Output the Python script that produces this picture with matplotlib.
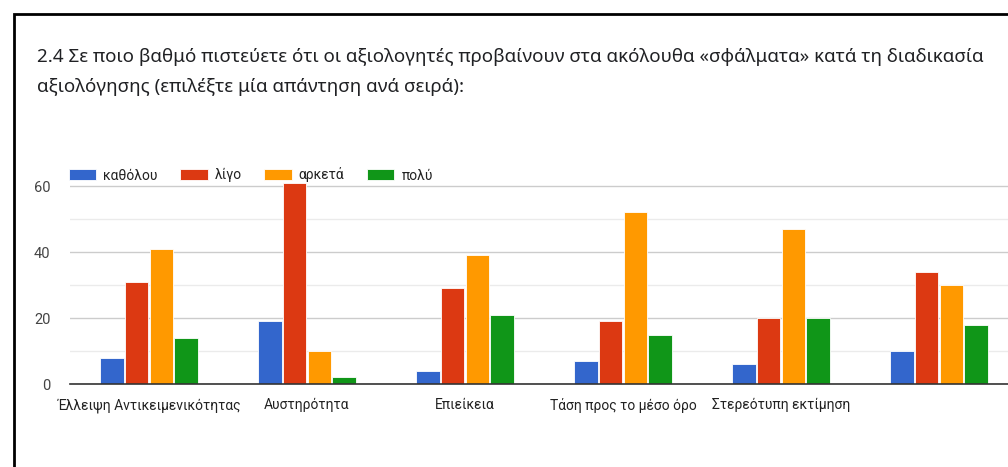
import matplotlib.pyplot as plt
import numpy as np
from matplotlib.patches import Rectangle

# data
categories = ["Έλλειψη Αντικειμενικότητας", "Αυστηρότητα", "Επιείκεια",
              "Τάση προς το μέσο όρο", "Στερεότυπη εκτίμηση", ""]
series_names = ["καθόλου", "λίγο", "αρκετά", "πολύ"]
katholou = [8, 19, 4, 7, 6, 10]
ligo = [31, 61, 29, 19, 20, 34]
arketa = [41, 10, 39, 52, 47, 30]
poly = [14, 2, 21, 15, 20, 18]
colors = ["#3366cc", "#dc3912", "#ff9900", "#109618"]

title_lines = ["2.4 Σε ποιο βαθμό πιστεύετε ότι οι αξιολογητές προβαίνουν στα ακόλουθα "
               "«σφάλματα» κατά τη διαδικασία",
               "αξιολόγησης (επιλέξτε μία απάντηση ανά σειρά):"]

plt.rcParams['font.family'] = ['Roboto', 'DejaVu Sans']

fig = plt.figure(figsize=(10.08, 4.67), dpi=100)

# black frame of the card (clipped on the right and bottom)
fig.patches.append(Rectangle((14 / 1008, -0.1), 1.2, 1 - 14 / 467 + 0.1,
                             transform=fig.transFigure, fill=False,
                             edgecolor="black", linewidth=2))

for k, line in enumerate(title_lines):
    fig.text(37 / 1008, 1 - (57 + 30 * k) / 467, line, fontsize=13.5, color="#202124",
             va="center", ha="left", family=['Noto Sans', 'DejaVu Sans'])

ax = fig.add_axes([70 / 1008, 1 - 384 / 467, 948 / 1008, (384 - 179.4) / 467])

x = np.arange(len(categories))
w = 0.148
all_series = [katholou, ligo, arketa, poly]
for i, (vals, name, c) in enumerate(zip(all_series, series_names, colors)):
    ax.bar(x + (i - 1.5) * (w + 0.008), vals, width=w, color=c, label=name,
           edgecolor="white", linewidth=0.6, zorder=3)

ax.set_xlim(-0.5, 5.5)
ax.set_ylim(0, 62)
ax.set_yticks([0, 20, 40, 60])
ax.set_yticks([10, 30, 50], minor=True)
ax.grid(axis="y", which="major", color="#cccccc", linewidth=1, zorder=0)
ax.grid(axis="y", which="minor", color="#ebebeb", linewidth=1, zorder=0)
ax.tick_params(axis="y", which="both", length=0, labelsize=10.5, labelcolor="#444444", pad=14)
ax.set_xticks(x)
ax.set_xticklabels(categories, fontsize=10, color="#222222")
ax.tick_params(axis="x", length=0, pad=10)
for s in ["top", "right", "left"]:
    ax.spines[s].set_visible(False)
ax.spines["bottom"].set_color("#333333")
ax.spines["bottom"].set_linewidth(1.2)
ax.spines["bottom"].set_zorder(4)

fig.legend(loc="center left", bbox_to_anchor=(56 / 1008, 1 - 175 / 467), ncol=4,
           frameon=False, fontsize=10, handlelength=2.0, handleheight=0.85,
           columnspacing=1.6, handletextpad=0.5, labelcolor="#222222")

fig.savefig("out.png", dpi=100)
